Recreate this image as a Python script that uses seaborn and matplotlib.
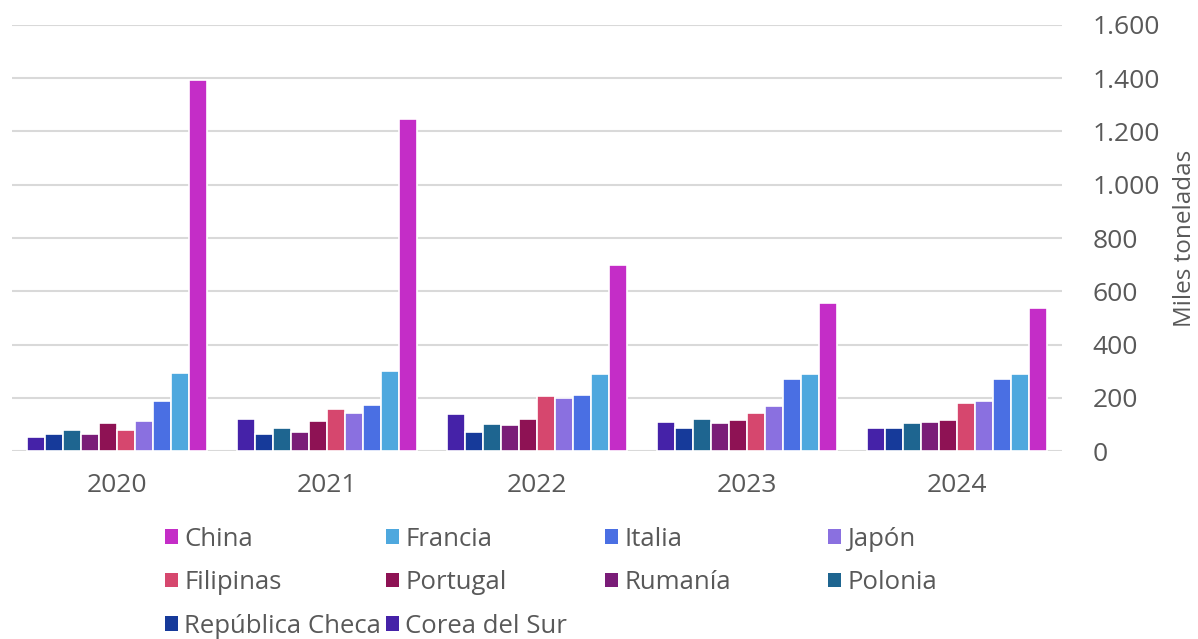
import numpy as np
import pandas as pd
import matplotlib.pyplot as plt
import seaborn as sns
from matplotlib.ticker import FuncFormatter, MultipleLocator
from matplotlib.patches import Patch

# Data (miles de toneladas)
years = ['2020', '2021', '2022', '2023', '2024']
countries = ['Corea del Sur', 'República Checa', 'Polonia', 'Rumanía', 'Portugal',
             'Filipinas', 'Japón', 'Italia', 'Francia', 'China']
corea = [54, 121, 141, 111, 87]
rep_checa = [63, 65, 72, 86, 87]
polonia = [79, 87, 103, 120, 107]
rumania = [63, 73, 97, 107, 111]
portugal = [104, 112, 120, 116, 116]
filipinas = [79, 158, 206, 142, 180]
japon = [113, 142, 201, 171, 188]
italia = [190, 175, 210, 270, 270]
francia = [293, 300, 288, 290, 288]
china = [1393, 1245, 700, 557, 536]

colors = ['#4522A8', '#163A9A', '#1E6590', '#7A1C78', '#8E1254',
          '#D6476E', '#8A70E0', '#4A6FE3', '#4EA8DE', '#C42DC7']

series = [corea, rep_checa, polonia, rumania, portugal,
          filipinas, japon, italia, francia, china]
rows = []
for name, vals in zip(countries, series):
    for y, v in zip(years, vals):
        rows.append({'year': y, 'country': name, 'value': v})
df = pd.DataFrame(rows)

sns.set_style('white')
plt.rcParams['font.family'] = ['Open Sans', 'DejaVu Sans']
text_color = '#595959'

fig = plt.figure(figsize=(11.98, 6.39), dpi=100)
ax = fig.add_axes([0.010, 0.294, 0.8765, 0.667])

sns.barplot(data=df, x='year', y='value', hue='country', order=years,
            hue_order=countries, palette=colors, width=0.86,
            edgecolor='white', linewidth=1.2, saturation=1, ax=ax, legend=False)

ax.set_ylim(0, 1600)
ax.set_xlim(-0.5, 4.5)
ax.yaxis.set_major_locator(MultipleLocator(200))
ax.yaxis.set_major_formatter(FuncFormatter(lambda v, p: f'{int(v):,}'.replace(',', '.')))
ax.yaxis.tick_right()
ax.yaxis.set_label_position('right')
ax.grid(axis='y', color='#d9d9d9', linewidth=1.5)
ax.set_axisbelow(True)
for s in ax.spines.values():
    s.set_visible(False)
ax.tick_params(axis='y', length=0, pad=22, labelsize=19, labelcolor=text_color)
ax.tick_params(axis='x', length=0, pad=16, labelsize=19, labelcolor=text_color)
ax.set_xlabel('')
ax.set_ylabel('Miles toneladas', fontsize=17.5, color=text_color, va='center', ha='center')
ax.yaxis.set_label_coords(1.117, 0.5)

# Legend: 4 columns, row-major order as in the original
legend_order = ['China', 'Francia', 'Italia', 'Japón', 'Filipinas', 'Portugal',
                'Rumanía', 'Polonia', 'República Checa', 'Corea del Sur']
cmap = dict(zip(countries, colors))
col_x = [0.1377, 0.3222, 0.5050, 0.6912]
for c in range(4):
    names = legend_order[c::4]
    handles = [Patch(facecolor=cmap[n], edgecolor='none') for n in names]
    leg = fig.legend(handles, names, loc='upper left', bbox_to_anchor=(col_x[c], 0.176),
                     frameon=False, fontsize=18.5, handlelength=0.5, handleheight=0.5,
                     handletextpad=0.25, labelspacing=0.72, borderpad=0, borderaxespad=0)
    for t in leg.get_texts():
        t.set_color(text_color)

fig.savefig('out.png', dpi=100, facecolor='white')
